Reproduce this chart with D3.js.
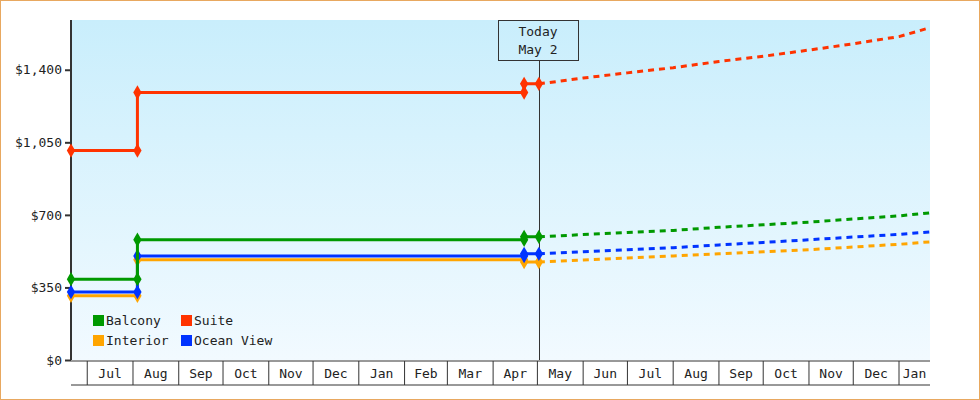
<!DOCTYPE html>
<html><head><meta charset="utf-8">
<script src="https://cdn.jsdelivr.net/npm/d3@7"></script>
<style>body{margin:0;background:#fff}svg{display:block}text{font-family:"DejaVu Sans Mono",monospace;fill:#222}</style>
</head><body><svg id="c" width="980" height="400"></svg>
<script>
const seriesNames = ["Balcony","Suite","Interior","Ocean View"];
const colors = ["#009900","#ff3300","#ffa500","#0033ff"];
const histDates = ["2023-06-20","2023-08-04","2023-08-04","2024-04-22","2024-04-22","2024-05-02"];
const histBalcony = [390,390,580,580,594,594];
const histSuite = [1010,1010,1290,1290,1332,1332];
const histInterior = [310,310,483,483,473,473];
const histOcean = [328,328,502,502,512,512];
const fcDates = ["2024-05-02","2024-06-01","2024-07-01","2024-08-01","2024-09-01","2024-10-01","2024-11-01","2024-12-01","2025-01-01","2025-01-22"];
const fcBalcony = [594,605,615,625,640,652,665,680,695,710];
const fcSuite = [1332,1360,1385,1410,1440,1465,1495,1525,1560,1603];
const fcInterior = [473,482,492,502,512,522,532,545,558,570];
const fcOcean = [512,522,532,542,555,567,580,593,606,618];
const yTicks = [0,350,700,1050,1400];
const todayLabel = ["Today","May 2"];

const svg = d3.select("#c");
const L=71,R=930,T=20,B=360;
const pd = d3.timeParse("%Y-%m-%d");
const x = d3.scaleTime().domain([pd("2023-06-20"),pd("2025-01-22")]).range([L,R]);
const y = d3.scaleLinear().domain([0,1640]).range([B,T]);

svg.append("rect").attr("x",0.5).attr("y",0.5).attr("width",979).attr("height",399).attr("fill","#fff").attr("stroke","#e8a860");
const g = svg.append("defs").append("linearGradient").attr("id","bg").attr("x1",0).attr("y1",0).attr("x2",0).attr("y2",1);
g.append("stop").attr("offset","0").attr("stop-color","#c9eefc");
g.append("stop").attr("offset","1").attr("stop-color","#f2faff");
svg.append("rect").attr("x",L).attr("y",T).attr("width",R-L).attr("height",B-T).attr("fill","url(#bg)");

// y axis
const ya = svg.append("g").attr("transform",`translate(${L},0)`)
  .call(d3.axisLeft(y).tickValues(yTicks).tickSize(6).tickFormat(d=>"$"+d3.format(",")(d)));
ya.select(".domain").remove();
ya.selectAll("line").attr("stroke","#333").attr("stroke-width",2);
ya.selectAll("text").attr("font-size",13).attr("font-family","DejaVu Sans Mono").attr("fill","#333");
svg.append("line").attr("x1",L).attr("x2",L).attr("y1",T).attr("y2",B).attr("stroke","#333").attr("stroke-width",2);

// x axis cells
const months = d3.timeMonth.range(pd("2023-07-01"),pd("2025-01-22"));
svg.append("line").attr("x1",L).attr("x2",R).attr("y1",B+1).attr("y2",B+1).attr("stroke","#333");
svg.append("line").attr("x1",L).attr("x2",R).attr("y1",385).attr("y2",385).attr("stroke","#333");
months.forEach(m=>{
  const x0=x(m), x1=Math.min(R,x(d3.timeMonth.offset(m,1)));
  svg.append("line").attr("x1",x0).attr("x2",x0).attr("y1",B+1).attr("y2",385).attr("stroke","#333");
  svg.append("text").attr("x",(x0+x1)/2).attr("y",378).attr("text-anchor","middle").attr("font-size",13).text(d3.timeFormat("%b")(m));
});

// today
const tx = Math.round(x(pd("2024-05-02")))+0.5;
svg.append("line").attr("x1",tx).attr("x2",tx).attr("y1",60).attr("y2",B).attr("stroke","#333");
svg.append("rect").attr("x",498.5).attr("y",20.5).attr("width",80).attr("height",40).attr("fill","none").attr("stroke","#333");
todayLabel.forEach((t,i)=>svg.append("text").attr("x",538).attr("y",36+i*18).attr("text-anchor","middle").attr("font-size",13).text(t));

const hist=[histBalcony,histSuite,histInterior,histOcean];
const fc=[fcBalcony,fcSuite,fcInterior,fcOcean];
const order=[2,3,0,1];
const line=d3.line().x(d=>x(d[0])).y(d=>y(d[1]));
order.forEach(i=>{
  const hp=histDates.map((d,k)=>[pd(d),hist[i][k]]);
  const fp=fcDates.map((d,k)=>[pd(d),fc[i][k]]);
  svg.append("path").attr("d",line(fp)).attr("fill","none").attr("stroke",colors[i]).attr("stroke-width",3).attr("stroke-dasharray","6,5");
  svg.append("path").attr("d",line(hp)).attr("fill","none").attr("stroke",colors[i]).attr("stroke-width",3);
  hp.forEach(p=>svg.append("path").attr("d",d3.symbol(d3.symbolDiamond,60)()).attr("transform",`translate(${x(p[0])},${y(p[1])})`).attr("fill",colors[i]));
});

// legend
[[0,93,320],[1,181,320],[2,93,340],[3,181,340]].forEach(([i,lx,ly])=>{
  svg.append("rect").attr("x",lx).attr("y",ly-5).attr("width",11).attr("height",11).attr("fill",colors[i]);
  svg.append("text").attr("x",lx+13).attr("y",ly+5).attr("font-size",13).text(seriesNames[i]);
});
</script></body></html>
